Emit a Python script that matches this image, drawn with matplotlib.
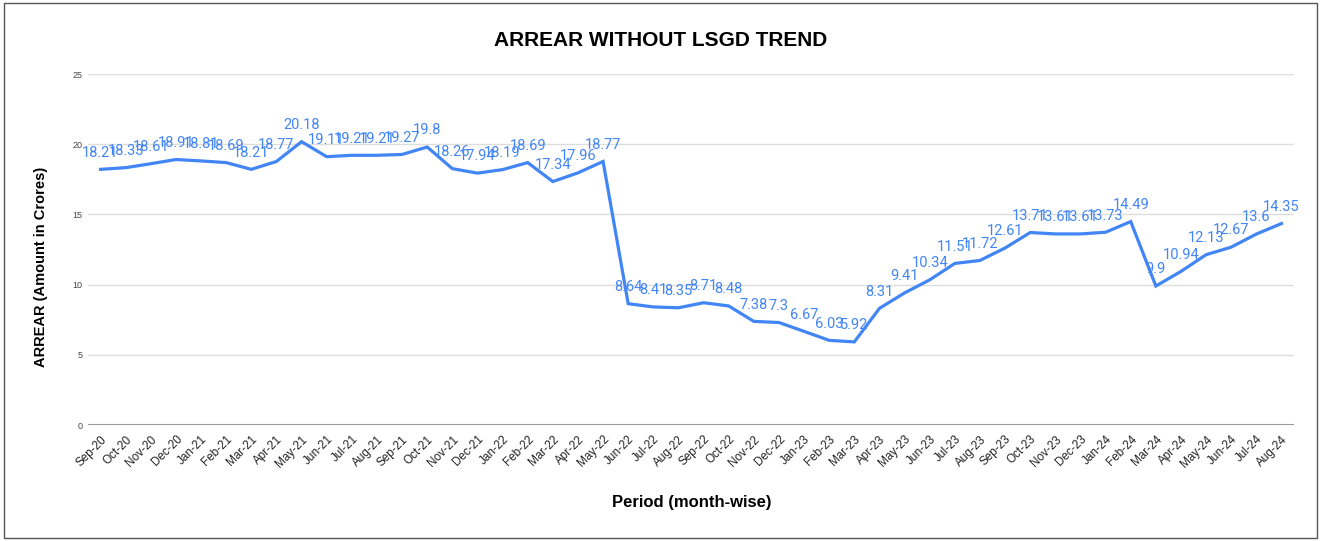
import matplotlib.pyplot as plt
from matplotlib.patches import Rectangle

# months Sep-20 .. Aug-24
months = ["Sep-20", "Oct-20", "Nov-20", "Dec-20",
          "Jan-21", "Feb-21", "Mar-21", "Apr-21", "May-21", "Jun-21",
          "Jul-21", "Aug-21", "Sep-21", "Oct-21", "Nov-21", "Dec-21",
          "Jan-22", "Feb-22", "Mar-22", "Apr-22", "May-22", "Jun-22",
          "Jul-22", "Aug-22", "Sep-22", "Oct-22", "Nov-22", "Dec-22",
          "Jan-23", "Feb-23", "Mar-23", "Apr-23", "May-23", "Jun-23",
          "Jul-23", "Aug-23", "Sep-23", "Oct-23", "Nov-23", "Dec-23",
          "Jan-24", "Feb-24", "Mar-24", "Apr-24", "May-24", "Jun-24",
          "Jul-24", "Aug-24"]
arrear = [18.21, 18.33, 18.61, 18.91,
          18.81, 18.69, 18.21, 18.77, 20.18, 19.11,
          19.21, 19.21, 19.27, 19.8, 18.26, 17.94,
          18.19, 18.69, 17.34, 17.96, 18.77, 8.64,
          8.41, 8.35, 8.71, 8.48, 7.38, 7.3,
          6.67, 6.03, 5.92, 8.31, 9.41, 10.34,
          11.51, 11.72, 12.61, 13.71, 13.61, 13.61,
          13.73, 14.49, 9.9, 10.94, 12.13, 12.67,
          13.6, 14.35]
yticks = [0, 5, 10, 15, 20, 25]

blue = "#4285F4"

fig = plt.figure(figsize=(13.21, 5.41), dpi=100)
ax = fig.add_axes([0.0666, 0.2144, 0.913, 0.6488])

x = list(range(len(months)))
ax.plot(x, arrear, color=blue, linewidth=2.3, solid_joinstyle="miter", zorder=3)

for i, v in enumerate(arrear):
    ax.annotate(f"{v:g}", (i, v), xytext=(0, 7), textcoords="offset points",
                ha="center", va="bottom", color=blue, fontsize=10.5,
                family="Roboto", zorder=4)

ax.set_xlim(-0.5, len(months) - 0.5)
ax.set_ylim(0, 25)
ax.set_yticks(yticks)
ax.set_yticklabels([str(t) for t in yticks], fontsize=6.5, family="Liberation Sans",
                   color="#444444")
ax.set_xticks(x)
ax.set_xticklabels(months, rotation=45, ha="right", rotation_mode="anchor",
                   fontsize=8.5, family="Liberation Sans", color="#222222")
ax.tick_params(axis="both", length=0, pad=4)
ax.tick_params(axis="x", pad=6)

ax.grid(axis="y", color="#dddddd", linewidth=1)
ax.axhline(0, color="#999999", linewidth=1.5, zorder=2)
for s in ax.spines.values():
    s.set_visible(False)

fig.text(0.5, 1 - 40 / 541, "ARREAR WITHOUT LSGD TREND", fontsize=15,
         fontweight="bold", family="Liberation Sans", ha="center", va="center")
fig.text(692 / 1321, 1 - 502 / 541, "Period (month-wise)", fontsize=12,
         fontweight="bold", family="Liberation Sans", ha="center", va="center")
fig.text(41 / 1321, 1 - 267 / 541, "ARREAR (Amount in Crores)", fontsize=10.5,
         fontweight="bold", family="Liberation Sans", ha="center", va="center",
         rotation=90)

fig.patches.append(Rectangle((0.003, 0.005), 0.994, 0.99, transform=fig.transFigure,
                             fill=False, edgecolor="#555555", linewidth=1))

fig.savefig("out.png", dpi=100)
